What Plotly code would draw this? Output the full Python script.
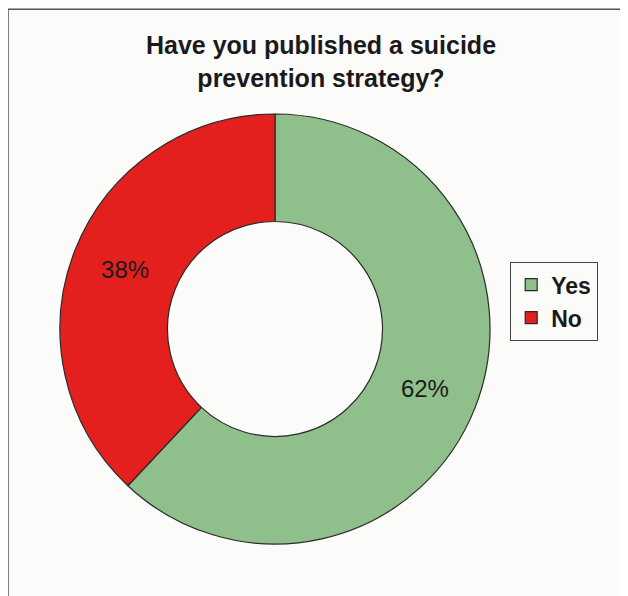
import plotly.graph_objects as go

labels = ["Yes", "No"]
values = [62, 38]
colors = ["#8fc08c", "#e3201e"]

W, H = 628, 596
OFF = 8  # page body margin offset in the screenshot

def fx(px):
    return (px - OFF) / W

def fy(py):
    return 1 - (py - OFF) / H

fig = go.Figure(go.Pie(
    labels=labels,
    values=values,
    hole=0.5,
    sort=False,
    direction="clockwise",
    rotation=0,
    marker=dict(colors=colors, line=dict(color="#2a2a2a", width=1.2)),
    texttemplate="%{percent:.0%}",
    textposition="inside",
    insidetextorientation="horizontal",
    textfont=dict(family="Liberation Sans, Arial", size=24, color="#1a1a1a"),
    domain=dict(x=[fx(60), fx(490)], y=[fy(546), fy(112)]),
    hoverinfo="label+percent",
))

fig.update_layout(
    width=W, height=H,
    margin=dict(l=0, r=0, t=0, b=0),
    paper_bgcolor="#fbfbfa",
    plot_bgcolor="#fbfbfa",
    title=dict(
        text="<b>Have you published a suicide<br>prevention strategy?</b>",
        x=fx(321), xanchor="center",
        y=fy(54), yanchor="top",
        font=dict(family="Liberation Sans, Arial", size=25, color="#1a1a1a"),
    ),
    legend=dict(
        x=fx(510), xanchor="left",
        y=fy(262), yanchor="top",
        bgcolor="#fbfbfa",
        bordercolor="#444444",
        borderwidth=1.2,
        font=dict(family="Liberation Sans, Arial", size=23, color="#1a1a1a", weight="bold"),
        itemwidth=30,
    ),
    shapes=[dict(
        type="rect", xref="paper", yref="paper",
        x0=0.0, x1=1.02, y0=-0.02, y1=0.998,
        line=dict(color="#555555", width=1.5),
    )],
)

fig.write_html("out.html")
